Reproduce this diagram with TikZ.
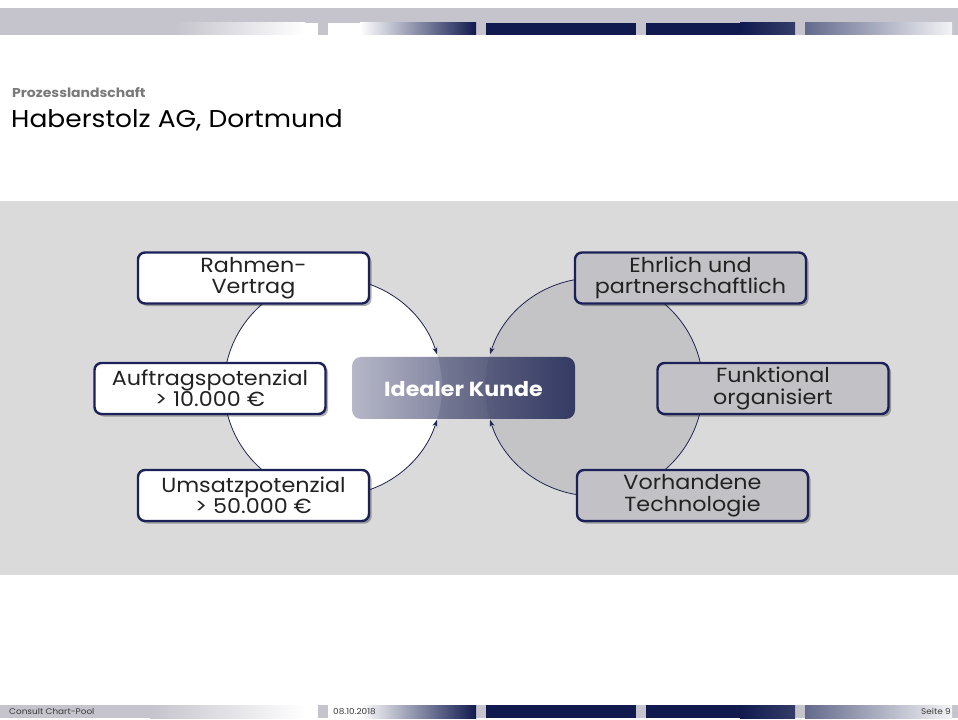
\documentclass[tikz,border=0pt]{standalone}
\usepackage{fontspec}
\setmainfont[FakeStretch=1.09]{Poppins}
\usetikzlibrary{shadows,fadings,arrows.meta}
\definecolor{navy}{HTML}{111A4E}
\definecolor{navytwo}{HTML}{232958}
\definecolor{bandgrey}{HTML}{C5C4CD}
\definecolor{panelgrey}{HTML}{DADADA}
\definecolor{circgrey}{HTML}{C4C4C7}
\definecolor{boxgrey}{HTML}{C2C2C6}
\definecolor{bordernavy}{HTML}{1B2058}
\definecolor{arcnavy}{HTML}{1F2550}
\definecolor{txt}{HTML}{222222}
\definecolor{subgrey}{HTML}{7A7A7A}
\definecolor{foottxt}{HTML}{3A3A3A}
\tikzfading[name=idealfade, left color=transparent!67, right color=transparent!11]
\begin{document}
\begin{tikzpicture}[x=1bp,y=-1bp,
  obox/.style={draw=bordernavy, line width=2.4bp, rounded corners=7bp,
    minimum width=231bp, minimum height=51bp, inner sep=0pt, align=center,
    font=\fontsize{20.5}{21.5}\selectfont, text=txt,
    drop shadow={shadow xshift=2.5bp, shadow yshift=-2.5bp, opacity=0.3, fill=black}},
  whitebox/.style={obox, fill=white},
  greybox/.style={obox, fill=boxgrey},
  arcline/.style={draw=arcnavy, line width=0.8bp},
  tip/.style={-{Stealth[length=7bp,width=5bp]}},
  foot/.style={font=\fontsize{8.2}{9}\selectfont, text=foottxt, inner sep=0pt}
]
\useasboundingbox (0,0) rectangle (958,720);
\fill[white] (0,0) rectangle (958,720);
% header band
\fill[bandgrey] (0,8) rectangle (958,35);
\shade[left color=bandgrey, right color=white] (175,23) rectangle (305,35);
\fill[white] (305,23) rectangle (318,35);
\fill[white] (328,23) rectangle (360,35);
\shade[left color=white, right color=navy] (360,23) rectangle (476,35);
\fill[navy] (486,23) rectangle (636,35);
\fill[navy] (646,23) rectangle (740,35);
\shade[left color=navy, right color=navy!85!white] (740,23) rectangle (795,35);
\shade[left color=navy!65!white, right color=white!95!navy] (805,23) rectangle (952,35);
% footer band
\fill[bandgrey] (0,705) rectangle (958,718);
\shade[left color=bandgrey, right color=white] (150,705) rectangle (305,718);
\fill[white] (305,705) rectangle (318,718);
\fill[white] (328,705) rectangle (360,718);
\shade[left color=white, right color=navy] (360,705) rectangle (476,718);
\fill[navy] (486,705) rectangle (636,718);
\fill[navy] (646,705) rectangle (740,718);
\shade[left color=navy, right color=navy!85!white] (740,705) rectangle (795,718);
\shade[left color=navy!65!white, right color=white!95!navy] (805,705) rectangle (952,718);
\node[foot, anchor=west] (fl) at (9,711.5) {Consult Chart-Pool};
\node[foot, anchor=west] (fd) at (333,711.5) {08.10.2018};
\node[foot, anchor=east] (fr) at (951,711.5) {Seite 9};
% titles
\node[anchor=base west, inner sep=0pt, text=subgrey, font=\bfseries\fontsize{12.9}{14}\selectfont] (sub) at (12,98) {Prozesslandschaft};
\node[anchor=base west, inner sep=0pt, text=black, font=\fontsize{24.4}{26}\selectfont] (title) at (11,127.5) {Haberstolz AG, Dortmund};
% panel
\fill[panelgrey] (0,201) rectangle (958,575);
% circles
\coordinate (L) at (333,387);
\coordinate (R) at (594,387);
\fill[white] (L) circle[radius=109];
\fill[circgrey] (R) circle[radius=109];
% ideal box
\fill[navytwo, path fading=idealfade, rounded corners=9bp] (352,357) rectangle (575,419);
\node[text=white, font=\bfseries\fontsize{20.4}{22}\selectfont, inner sep=0pt] (ideal) at (463.5,389) {Idealer Kunde};
% arcs
\draw[arcline] (L) ++(100:109) arc[start angle=100, end angle=260, radius=109];
\draw[arcline, tip] (L) ++(-85:109) arc[start angle=-85, end angle=-17.5, radius=109];
\draw[arcline, tip] (L) ++(85:109) arc[start angle=85, end angle=17.5, radius=109];
\draw[arcline] (R) ++(-80:109) arc[start angle=-80, end angle=80, radius=109];
\draw[arcline, tip] (R) ++(-95:109) arc[start angle=-95, end angle=-162.5, radius=109];
\draw[arcline, tip] (R) ++(95:109) arc[start angle=95, end angle=162.5, radius=109];
% boxes
\node[whitebox] (rahmen) at (253.5,278) {Rahmen-\\Vertrag};
\node[whitebox] (auftrag) at (210,388.5) {Auftragspotenzial\\> 10.000 €};
\node[whitebox] (umsatz) at (253.5,495.5) {Umsatzpotenzial\\> 50.000 €};
\node[greybox] (ehrlich) at (690.5,278) {Ehrlich und\\partnerschaftlich};
\node[greybox] (funktional) at (773,388.5) {Funktional\\organisiert};
\node[greybox] (vorhanden) at (692.5,495.5) {Vorhandene\\Technologie};
\end{tikzpicture}
\end{document}
